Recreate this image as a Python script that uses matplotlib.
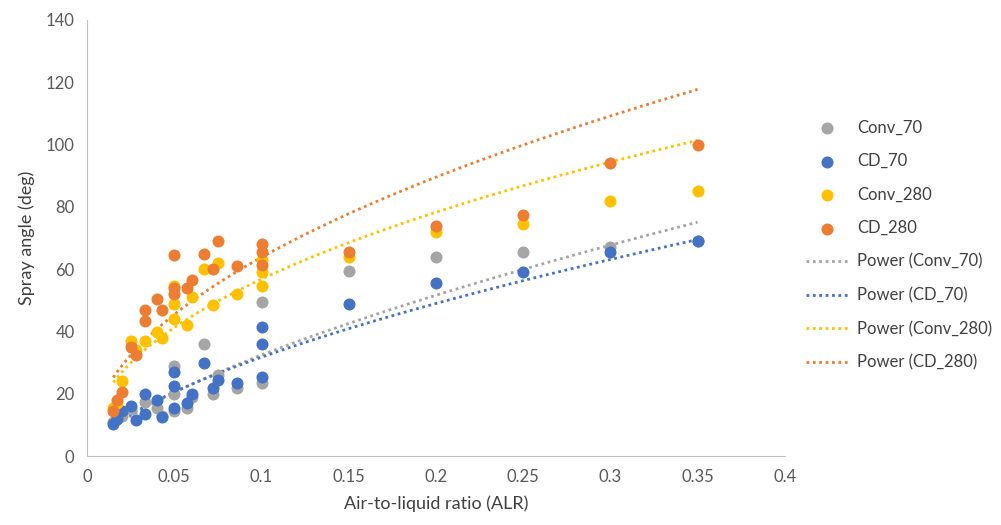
import numpy as np
import matplotlib.pyplot as plt

plt.rcParams['font.family'] = ['Lato', 'DejaVu Sans']

# ALR values and spray angles
conv70_x = [0.015, 0.02, 0.025, 0.033, 0.04, 0.043, 0.05, 0.05, 0.05, 0.057, 0.06,
            0.067, 0.072, 0.075, 0.086, 0.1, 0.1, 0.15, 0.2, 0.25, 0.3, 0.35]
conv70_y = [11, 13, 15, 17.5, 15.5, 13, 29, 20, 14.5, 15.5, 19,
            36, 20, 26, 22, 49.5, 23.5, 59.5, 64, 65.5, 67, 69]

cd70_x = [0.015, 0.017, 0.02, 0.025, 0.028, 0.033, 0.033, 0.04, 0.043, 0.05, 0.05, 0.05,
          0.057, 0.06, 0.067, 0.072, 0.075, 0.086, 0.1, 0.1, 0.1, 0.15, 0.2, 0.25, 0.3, 0.35]
cd70_y = [10.5, 12, 14.5, 16, 11.5, 20, 13.5, 18, 12.5, 27, 22.5, 15.5,
          17, 20, 30, 22, 24.5, 23.5, 41.5, 36, 25.5, 49, 55.5, 59, 65.5, 69]

conv280_x = [0.015, 0.017, 0.02, 0.025, 0.028, 0.033, 0.04, 0.043, 0.05, 0.05, 0.05,
             0.057, 0.06, 0.067, 0.072, 0.075, 0.086, 0.1, 0.1, 0.1, 0.15, 0.2, 0.25, 0.3, 0.35]
conv280_y = [15.5, 17, 24, 37, 34, 37, 40, 38, 54.5, 49, 44,
             42, 51, 60, 48.5, 62, 52, 59, 54.5, 63, 64, 72, 74.5, 82, 85]

cd280_x = [0.015, 0.017, 0.02, 0.025, 0.028, 0.033, 0.033, 0.04, 0.043, 0.05, 0.05, 0.05,
           0.057, 0.06, 0.067, 0.072, 0.075, 0.086, 0.1, 0.1, 0.1, 0.15, 0.2, 0.25, 0.3, 0.35]
cd280_y = [14.5, 18, 20.5, 35, 32.5, 47, 43.5, 50.5, 47, 64.5, 54, 52,
           54, 56.5, 65, 60, 69, 61, 68, 65.5, 61.5, 65.5, 74, 77.5, 94, 100]

names = ['Conv_70', 'CD_70', 'Conv_280', 'CD_280']
colors = ['#A5A5A5', '#4472C4', '#FFC000', '#ED7D31']
series = [(conv70_x, conv70_y), (cd70_x, cd70_y), (conv280_x, conv280_y), (cd280_x, cd280_y)]

fig, ax = plt.subplots(figsize=(10.01, 5.25), dpi=100)
fig.subplots_adjust(left=0.087, right=0.784, bottom=0.131, top=0.962)

handles = []
for name, col, (x, y) in zip(names, colors, series):
    h = ax.scatter(x, y, s=75, color=col, label=name, zorder=3, linewidths=0)
    handles.append(h)

# power-law trend lines (y = a * x^b), fitted in log space
for name, col, (x, y) in zip(names, colors, series):
    b, loga = np.polyfit(np.log(x), np.log(y), 1)
    xs = np.linspace(min(x), max(x), 200)
    h, = ax.plot(xs, np.exp(loga) * xs ** b, color=col, lw=2, ls=(0, (1, 1.3)),
                 label=f'Power ({name})', zorder=2)
    handles.append(h)

ax.set_xlim(0, 0.4)
ax.set_ylim(0, 140)
ax.set_xticks(np.arange(0, 0.41, 0.05))
ax.set_xticklabels(['0', '0.05', '0.1', '0.15', '0.2', '0.25', '0.3', '0.35', '0.4'])
ax.set_yticks(range(0, 141, 20))
ax.tick_params(length=0, labelsize=12, colors='#595959', pad=9)
for s in ['top', 'right']:
    ax.spines[s].set_visible(False)
for s in ['left', 'bottom']:
    ax.spines[s].set_color('#BFBFBF')
ax.set_xlabel('Air-to-liquid ratio (ALR)', fontsize=13, color='#404040', labelpad=8)
ax.set_ylabel('Spray angle (deg)', fontsize=13, color='#404040', labelpad=8)

leg = fig.legend(handles=handles, loc='center left', bbox_to_anchor=(0.79, 0.533),
                 frameon=False, fontsize=12, labelspacing=1.05, handlelength=2.6,
                 handletextpad=0.5, scatterpoints=1)
for t in leg.get_texts():
    t.set_color('#404040')

fig.savefig('out.png')
